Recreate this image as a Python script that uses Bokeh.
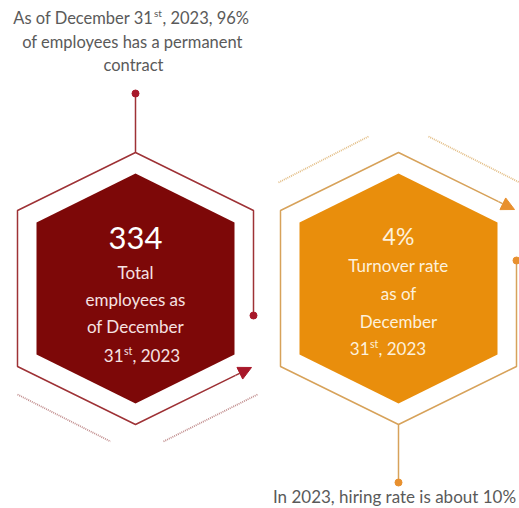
import numpy as np
from bokeh.plotting import figure
from bokeh.models import Range1d, Arrow, NormalHead
from bokeh.core.properties import value
from bokeh.embed import file_html
from bokeh.resources import INLINE

# ---- data ----
headline_values = ["334", "4%"]
headline_labels = [["Total", "employees as", "of December"],
                   ["Turnover rate", "as of", "December"]]
date_parts = ["31", "st", ", 2023"]
permanent_share = 96
hiring_rate = 10
top_note = [f"As of December 31", "st", f", 2023, {permanent_share}%",
            "of employees has a permanent", "contract"]
bottom_note = f"In 2023, hiring rate is about {hiring_rate}%"

# ---- style ----
RED_FILL, RED_LINE, RED_DOT, RED_DOTTED = "#7d0808", "#9e3236", "#a8182a", "#c08c8c"
ORA_FILL, ORA_LINE, ORA_DOT, ORA_DOTTED = "#e98e0c", "#d7a25a", "#e8902e", "#e2bc82"
GRAY = "#5a5a5a"
FONT = value("Lato")

W, H = 519, 508
p = figure(width=W, height=H, x_range=Range1d(0, W), y_range=Range1d(H, 0),
           output_backend="svg", toolbar_location=None,
           x_axis_location=None, y_axis_location=None, min_border=0,
           background_fill_color="white", border_fill_color="white",
           outline_line_color=None)
p.grid.visible = False

centers = [135, 398]
cy = 288


def hexagon(cx, hw, hh, hc):
    xs = [cx, cx + hw, cx + hw, cx, cx - hw, cx - hw]
    ys = [cy - hh, cy - hc, cy + hc, cy + hh, cy + hc, cy - hc]
    return xs, ys


# filled hexagons
for cx, col in zip(centers, [RED_FILL, ORA_FILL]):
    xs, ys = hexagon(cx, 99, 115, 66)
    p.patch(xs, ys, fill_color=col, line_color=None)

# outline hexagons (partial paths)
ohw, ohh, ohc = 118, 136, 78
# red
cx = centers[0]
T = (cx, cy - ohh); TR = (cx + ohw, cy - ohc); BR = (cx + ohw, cy + ohc)
B = (cx, cy + ohh); BL = (cx - ohw, cy + ohc); TL = (cx - ohw, cy - ohc)
slope = (BR[1] - B[1]) / (BR[0] - B[0])
tip = (cx + 116, B[1] + slope * 116)
path = [(TR[0], 315), TR, T, TL, BL, B, (cx + 100, B[1] + slope * 100)]
p.line([q[0] for q in path], [q[1] for q in path], line_color=RED_LINE, line_width=1.5)
p.add_layout(Arrow(end=NormalHead(size=13, fill_color=RED_DOT, line_color=RED_DOT),
                   x_start=cx + 100, y_start=B[1] + slope * 100, x_end=tip[0], y_end=tip[1],
                   line_color=RED_LINE, line_width=1.5))
p.line([cx, cx], [T[1], 93], line_color=RED_LINE, line_width=1.5)
p.scatter([cx, TR[0]], [93, 315], size=7, color=RED_DOT)
# red dotted
p.line([17, 110], [394, 441], line_color=RED_DOTTED, line_width=1.8, line_dash="1 1")
p.line([163, 257], [441, 394], line_color=RED_DOTTED, line_width=1.8, line_dash="1 1")

# orange
cx = centers[1]
T = (cx, cy - ohh); TR = (cx + ohw, cy - ohc); BR = (cx + ohw, cy + ohc)
B = (cx, cy + ohh); BL = (cx - ohw, cy + ohc); TL = (cx - ohw, cy - ohc)
slope = (TR[1] - T[1]) / (TR[0] - T[0])
tip = (cx + 116, T[1] + slope * 116)
path = [(BR[0], 260), BR, B, BL, TL, T, (cx + 100, T[1] + slope * 100)]
p.line([q[0] for q in path], [q[1] for q in path], line_color=ORA_LINE, line_width=1.5)
p.add_layout(Arrow(end=NormalHead(size=13, fill_color=ORA_DOT, line_color=ORA_DOT),
                   x_start=cx + 100, y_start=T[1] + slope * 100, x_end=tip[0], y_end=tip[1],
                   line_color=ORA_LINE, line_width=1.5))
p.line([cx, cx], [B[1], 482], line_color=ORA_LINE, line_width=1.5)
p.scatter([BR[0], cx], [260, 482], size=7, color=ORA_DOT)
# orange dotted
p.line([278, 368], [182, 136], line_color=ORA_DOTTED, line_width=1.8, line_dash="1 1")
p.line([428, 519], [136, 182], line_color=ORA_DOTTED, line_width=1.8, line_dash="1 1")

# ---- texts ----
def txt(x, y, s, size, color, align="center", baseline="middle"):
    p.text([x], [y], text=[s], text_font=FONT, text_font_size=value(size),
           text_color=color, text_align=align, text_baseline=baseline)

# top note
txt(153, 17, top_note[0], "16.5px", GRAY, align="right")
txt(153.5, 12, top_note[1], "10px", GRAY, align="left")
txt(162, 17, top_note[2], "16.5px", GRAY, align="left")
txt(132, 41, top_note[3], "16.5px", GRAY)
txt(133, 64, top_note[4], "16.5px", GRAY)

# red hexagon text
c0 = centers[0]
txt(c0, 237, headline_values[0], "31px", "#ffffff")
RED_TXT = "#f6e2e2"
for yy, s in zip([272, 299, 326], headline_labels[0]):
    txt(c0, yy, s, "17px", RED_TXT)
txt(123, 355, date_parts[0], "17px", RED_TXT, align="right")
txt(123.5, 350, date_parts[1], "10.5px", RED_TXT, align="left")
txt(132, 355, date_parts[2], "17px", RED_TXT, align="left")

# orange hexagon text
c1 = centers[1]
ORA_TXT = "#fdf1dc"
txt(c1, 235, headline_values[1], "23px", ORA_TXT)
for yy, s in zip([265, 293, 321], headline_labels[1]):
    txt(c1, yy, s, "17px", ORA_TXT)
txt(369, 348, date_parts[0], "17px", ORA_TXT, align="right")
txt(369.5, 343, date_parts[1], "10.5px", ORA_TXT, align="left")
txt(378, 348, date_parts[2], "17px", ORA_TXT, align="left")

# bottom note
txt(394, 496, bottom_note, "17px", GRAY)

open("out.html", "w").write(file_html(p, INLINE))
